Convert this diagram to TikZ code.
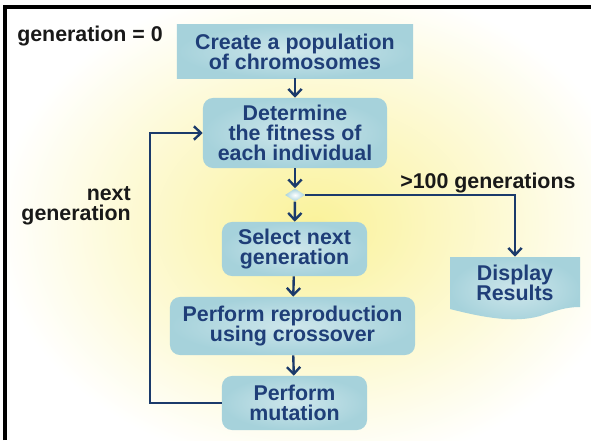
\documentclass[tikz,border=0pt]{standalone}
\usepackage{fontspec}
\setmainfont{Liberation Sans}
\usetikzlibrary{arrows.meta,shapes.geometric}
\definecolor{boxblue}{HTML}{A6D2DB}
\definecolor{boxtext}{HTML}{1F3E78}
\definecolor{linkblue}{HTML}{1B3A6B}
\definecolor{glow}{HTML}{FAF29A}
\tikzset{
  steptext/.style={text=boxtext, align=center, inner sep=0pt,
    font=\fontsize{15.2}{14.4}\selectfont\bfseries},
  stepbox/.style={steptext, inner color=boxblue!55!white, outer color=boxblue},
  roundbox/.style={stepbox, rounded corners=0.25cm},
  link/.style={draw=linkblue, line width=1.7pt,
    -{Straight Barb[length=5pt,width=9.5pt]}},
  sidetext/.style={font=\fontsize{15.2}{14.4}\selectfont\bfseries, text=black!90, inner sep=0pt}
}
\begin{document}
\begin{tikzpicture}[x=0.025cm, y=-0.025cm]
\useasboundingbox (0,0) rectangle (591,440);
% background glow and frame
\fill[white] (0,0) rectangle (591,440);
\shade[inner color=glow, outer color=white] (315,225) ellipse [x radius=320, y radius=245];
\draw[black, line width=2.2pt] (5,440) -- (5,7) -- (591,7);

% the steps of the loop, top to bottom
\node[stepbox, minimum width=5.9cm, minimum height=1.325cm] (create) at (295,51.5)
  {Create a population\\of chromosomes};
\node[roundbox, minimum width=4.6cm, minimum height=1.75cm] (fit) at (295,133)
  {Determine\\the fitness of\\each individual};
\node[diamond, inner sep=0pt, minimum width=0.5cm, minimum height=0.325cm,
  inner color=white, outer color=boxblue, shading=radial] (test) at (295,195) {};
\node[roundbox, minimum width=3.625cm, minimum height=1.35cm] (select) at (294.5,249)
  {Select next\\generation};
\node[roundbox, minimum width=6.125cm, minimum height=1.45cm] (repro) at (292.5,326)
  {Perform reproduction\\using crossover};
\node[roundbox, minimum width=3.625cm, minimum height=1.35cm] (mutate) at (294.5,403)
  {Perform\\mutation};

% result box with a wavy lower edge
\shade[inner color=boxblue!55!white, outer color=boxblue]
  (450,257) -- (580,257) -- (580,307)
  .. controls (565,307) and (555,311) .. (540,316)
  .. controls (515,323) and (485,318) .. (450,309) -- cycle;
\node[steptext, minimum width=3.25cm, minimum height=1.3cm]
  (result) at (515,283) {Display\\Results};

% labels
\node[sidetext, anchor=west] (start) at (17,36) {generation = 0};
\node[sidetext, anchor=east, align=right] (next) at (131,206) {next\\generation};
\node[sidetext, anchor=west] (stop) at (400,183) {>100 generations};

% connectors
\draw[link] (create) -- (fit);
\draw[link] (fit) -- (test);
\draw[link] (test) -- (select);
\draw[link] (select) -- (repro);
\draw[link] (repro) -- (mutate);
\draw[link] (mutate.west) -- (150,403) |- (fit.west);
\draw[link] (test.east) -| (result.north);
\end{tikzpicture}
\end{document}
